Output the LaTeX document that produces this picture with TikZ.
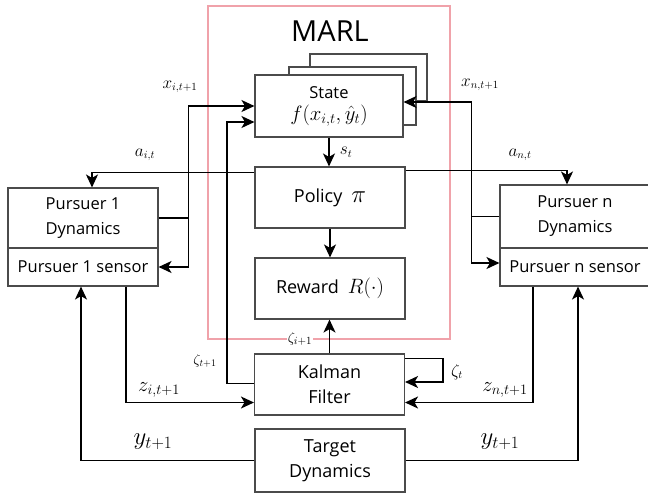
\documentclass[tikz,border=0pt]{standalone}
\usepackage{amsmath, amssymb}
\usepackage{fontspec}
\setmainfont{Open Sans}
\usepackage{tikz}
\usetikzlibrary{arrows.meta}

\definecolor{marlpink}{RGB}{240,162,170}
\definecolor{boxgray}{RGB}{75,75,75}

\begin{document}
\begin{tikzpicture}[x = 1pt, y = -1pt,
		block/.style = {draw = boxgray, line width = 1.1pt, fill = white, inner sep = 0pt, align = center,
			minimum width = 150pt, minimum height = 61pt, font = \fontsize{16.5}{25}\selectfont},
		bigblock/.style = {block, font = \fontsize{18}{25}\selectfont},
		flow/.style = {line width = 1.8pt, -{Stealth[length = 13pt, width = 12pt, inset = 3.5pt]}},
		wire/.style = {line width = 1.8pt},
		lbl/.style = {inner sep = 1pt, font = \fontsize{16}{16}\selectfont}]
		\clip (0,0) rectangle (648,493);
		\useasboundingbox (0,0) rectangle (648,493);

		\draw [marlpink, line width = 2.5pt] (208,6) rectangle (450,339);
		\node [font = \fontsize{29}{29}\selectfont] (marl) at (330,31) {MARL};

		\draw [boxgray, line width = 1.1pt, fill = white] (310,54) rectangle (427,101);
		\draw [boxgray, line width = 1.1pt, fill = white] (289,67) rectangle (416,125);
		\node [block, minimum width = 148pt, minimum height = 62pt] (state) at (329,106) {State\\[-3pt] \fontsize{21}{21}\selectfont $f(x_{i,t},\hat{y}_t)$};
		\node [bigblock] (policy) at (330,197.5) {Policy\enspace \fontsize{26}{26}\selectfont $\pi$};
		\node [bigblock] (reward) at (330,288.5) {Reward\enspace \fontsize{20}{20}\selectfont $R(\cdot)$};
		\node [bigblock] (kalman) at (329.5,384.5) {Kalman\\Filter};
		\node [bigblock, minimum height = 63pt] (target) at (330,460.5) {Target\\Dynamics};

		\node [block, minimum height = 60pt] (p1dyn) at (83,218) {Pursuer 1\\Dynamics};
		\node [block, minimum height = 38pt] (p1sen) at (83,267) {Pursuer 1 sensor};
		\node [block, minimum height = 63pt] (pndyn) at (575,216.5) {Pursuer n\\Dynamics};
		\node [block, minimum height = 38pt] (pnsen) at (575,267) {Pursuer n sensor};

		\draw [flow] (state.south) -- (state.south |- policy.north) node [lbl, midway, right = 9pt] {$s_t$};
		\draw [flow] (policy) -- (reward);
		\draw [flow] (kalman) -- (kalman |- reward.south);
		\node [lbl, fill = white, font = \fontsize{15}{15}\selectfont] (zetai) at (300,339) {$\zeta_{i+1}$};

		\draw [flow] ([yshift = -6pt]policy.north west) -| ([xshift = 9pt]p1dyn.north);
		\draw [flow] ([yshift = -4pt]policy.north east) -| ([xshift = -8pt]pndyn.north);
		\node [lbl] (ai) at (145,155) {$a_{i,t}$};
		\node [lbl] (an) at (520,155) {$a_{n,t}$};

		\draw [wire] (p1dyn.east) -- ++(30,0) coordinate (xi);
		\draw [flow] (xi) |- (state.west);
		\draw [flow] (xi) |- (p1sen.east);
		\node [lbl] (xilbl) at (180,87) {$x_{i,t+1}$};

		\draw [wire] (pndyn.west) -- ++(-28,0) coordinate (xn);
		\draw [flow] (xn) |- ([yshift = 4pt]state.east);
		\draw [flow] (xn) |- ([yshift = 4pt]pnsen.west);
		\node [lbl] (xnlbl) at (480,85) {$x_{n,t+1}$};

		\draw [flow] ([yshift = 1pt]kalman.west) -- ++(-27,0) |- ([yshift = -16pt]state.west);
		\node [lbl, font = \fontsize{14}{14}\selectfont] (zt1) at (205,361) {$\zeta_{t+1}$};

		\draw [flow] ([yshift = -5pt]kalman.north east) -- ++(38,0) |- ([yshift = 2.5pt]kalman.east);
		\node [lbl] (zt) at (457,372) {$\zeta_t$};

		\draw [flow] ([xshift = 43pt]p1sen.south) |- ([yshift = -18pt]kalman.west);
		\draw [flow] ([xshift = -42pt]pnsen.south) |- ([yshift = -18pt]kalman.east);
		\node [lbl, font = \fontsize{21}{21}\selectfont] (zi) at (159,390) {$z_{i,t+1}$};
		\node [lbl, font = \fontsize{21}{21}\selectfont] (zn) at (505,390) {$z_{n,t+1}$};

		\draw [flow] (target.west) -| ([xshift = -2pt]p1sen.south);
		\draw [flow] (target.east) -| ([xshift = 3pt]pnsen.south);
		\node [lbl, font = \fontsize{24}{24}\selectfont] (yl) at (153,442) {$y_{t+1}$};
		\node [lbl, font = \fontsize{24}{24}\selectfont] (yr) at (500,442) {$y_{t+1}$};
	\end{tikzpicture}
\end{document}
